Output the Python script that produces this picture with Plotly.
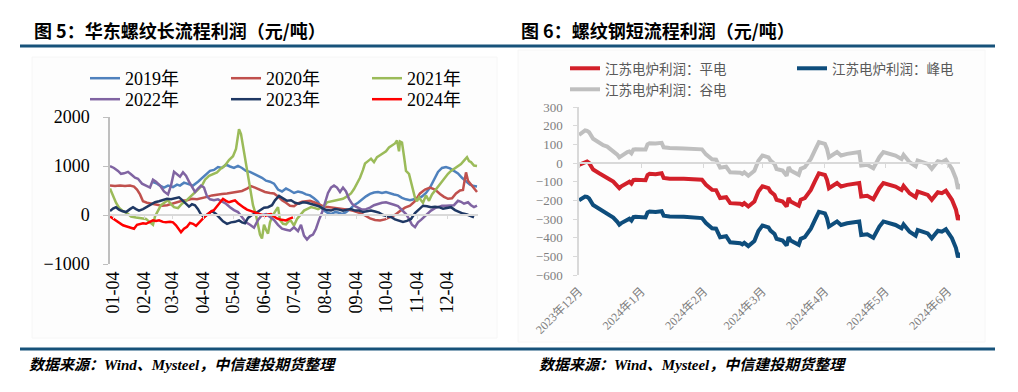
import plotly.graph_objects as go

W, H = 1018, 392
SERIF = "Liberation Serif, Noto Sans CJK SC"
SANS = "Noto Sans CJK SC"


def X(px):
    return px / W


def Y(py):
    return 1 - py / H


# ---------------- Left chart: 华东螺纹长流程利润 ----------------
month_tick_days = [3, 34, 62, 93, 123, 154, 184, 215, 246, 276, 307, 337]
month_tick_labels = ["01-04", "02-04", "03-04", "04-04", "05-04", "06-04",
                     "07-04", "08-04", "09-04", "10-04", "11-04", "12-04"]

day_2019 = [43, 47, 50, 54, 58, 63, 67, 70, 74, 78, 83, 88, 92, 96, 100, 104, 108, 112, 116, 120,
            124, 128, 132, 136, 140, 144, 148, 152, 156, 160, 164, 168, 172, 176, 180, 184, 188,
            192, 196, 200, 204, 208, 211, 214, 218, 221, 225, 228, 232, 236, 240, 244, 248, 252,
            256, 260, 264, 268, 272, 276, 280, 284, 288, 292, 296, 300, 304, 308, 312, 316, 320,
            324, 328, 332, 336, 340, 344, 348, 352, 356, 360, 364, 367]
val_2019 = [670, 640, 600, 560, 600, 570, 620, 600, 660, 640, 600, 680, 760, 820, 900, 920, 980,
            960, 1030, 990, 960, 1000, 960, 900, 880, 840, 800, 760, 700, 680, 640, 520, 480, 540,
            500, 450, 480, 460, 420, 400, 340, 270, 160, 90, 40, 20, 60, 50, 20, 60, 120, 200, 250,
            320, 380, 430, 460, 470, 450, 470, 440, 420, 400, 350, 320, 300, 320, 330, 380, 450,
            560, 720, 880, 960, 980, 950, 900, 850, 760, 680, 620, 590, 580]

day_2020 = [0, 5, 10, 15, 20, 24, 27, 30, 33, 37, 42, 47, 52, 57, 62, 67, 72, 77, 82, 87, 92, 97,
            102, 107, 112, 117, 122, 127, 132, 137, 141, 145, 150, 155, 160, 164, 168, 172, 176,
            180, 184, 188, 192, 196, 200, 204, 208, 212, 216, 220, 226, 232, 238, 244, 250, 255,
            260, 265, 270, 275, 280, 285, 290, 295, 300, 305, 310, 315, 320, 325, 330, 334, 338,
            342, 346, 350, 353, 355, 356, 358, 361, 364, 367]
val_2020 = [600, 590, 600, 590, 600, 580, 520, 420, 280, 250, 230, 210, 190, 200, 230, 260, 290,
            300, 330, 320, 340, 370, 400, 420, 430, 440, 460, 470, 490, 540, 590, 560, 520, 470,
            450, 440, 380, 300, 250, 190, 180, 240, 270, 280, 290, 260, 220, 190, 170, 160, 140,
            130, 110, 80, 40, -10, -70, -100, -110, -90, -50, 0, 80, 150, 190, 280, 440, 520, 560,
            520, 430, 370, 330, 340, 440, 500, 510, 800, 870, 700, 620, 560, 470]

day_2021 = [0, 3, 6, 9, 13, 17, 21, 26, 31, 36, 40, 43, 45, 48, 51, 55, 58, 61, 64, 68, 72, 76,
            80, 84, 88, 92, 95, 99, 103, 107, 111, 115, 119, 123, 126, 128, 129, 131, 133, 135,
            137, 139, 141, 143, 146, 148, 150, 152, 154, 156, 158, 160, 163, 166, 168, 170, 173,
            176, 179, 181, 184, 187, 191, 194, 198, 201, 205, 208, 211, 214, 217, 221, 225, 229,
            233, 237, 241, 244, 247, 250, 253, 255, 258, 261, 264, 267, 270, 273, 276, 279, 282,
            285, 287, 289, 290, 292, 294, 296, 299, 302, 305, 307, 309, 311, 313, 316, 319, 322,
            325, 328, 331, 334, 338, 341, 344, 348, 351, 354, 357, 359, 361, 364, 367]
val_2021 = [540, 380, 250, 150, 80, 40, -30, -50, -70, -80, -150, -200, -30, 80, 200, 260, 300,
            220, 160, 140, 230, 290, 360, 440, 520, 600, 720, 800, 840, 870, 950, 1010, 1120, 1200,
            1350, 1600, 1750, 1650, 1400, 1150, 950, 700, 430, 200, 0, -200, -400, -480, -200,
            -300, -380, -150, 0, 100, 160, -100, -180, -190, -120, -120, -214, -80, 30, 90, 130,
            160, 140, 120, 150, 170, 260, 280, 300, 310, 330, 380, 440, 530, 640, 760, 920, 1050,
            1100, 1150, 1080, 1180, 1220, 1260, 1300, 1380, 1420, 1460, 1520, 1300, 1500, 1480,
            1200, 900, 840, 600, 350, 280, 360, 300, 250, 400, 290, 420, 500, 580, 660, 740, 840,
            900, 940, 990, 1040, 1110, 1180, 1100, 1080, 1010, 1000]

day_2022 = [0, 4, 8, 11, 14, 18, 21, 25, 28, 32, 36, 40, 43, 46, 50, 54, 58, 61, 64, 67, 70, 73,
            76, 79, 82, 85, 88, 91, 94, 97, 100, 104, 108, 112, 116, 120, 124, 128, 132, 136, 140,
            144, 148, 152, 156, 160, 164, 168, 172, 176, 180, 184, 188, 191, 194, 197, 200, 203,
            206, 209, 212, 215, 218, 221, 224, 227, 230, 233, 236, 239, 242, 245, 248, 252, 256,
            260, 264, 268, 272, 276, 280, 284, 288, 292, 296, 299, 302, 305, 308, 311, 314, 318,
            321, 325, 328, 332, 336, 340, 344, 348, 351, 354, 358, 361, 364, 367]
val_2022 = [1000, 960, 900, 840, 850, 880, 830, 760, 740, 640, 600, 560, 720, 680, 600, 480, 420,
            600, 880, 820, 780, 870, 800, 680, 560, 470, 540, 600, 560, 380, 320, 300, 320, 280,
            230, 160, 100, 60, -50, -150, -200, -260, -100, 0, 20, -40, -100, -200, -280, -300,
            -320, -250, -330, -200, -420, -500, -430, -400, -280, -100, 50, 250, 450, 560, 600,
            560, 470, 560, 480, 330, 230, 180, 150, 110, 120, 150, 200, 230, 250, 260, 240, 210,
            180, 100, 20, -80, -200, -250, -150, -100, -40, 30, 90, 140, 160, 190, 190, 190, 200,
            290, 270, 230, 260, 200, 160, 190]

day_2023 = [0, 3, 6, 9, 12, 16, 20, 23, 26, 29, 33, 37, 41, 45, 49, 53, 57, 61, 65, 69, 72, 75,
            79, 82, 85, 88, 91, 94, 98, 102, 106, 109, 113, 117, 121, 125, 129, 132, 135, 138, 142,
            146, 150, 154, 158, 162, 165, 169, 173, 177, 181, 185, 189, 193, 197, 201, 205, 209,
            213, 217, 221, 225, 229, 233, 237, 241, 245, 249, 253, 257, 261, 265, 269, 273, 277,
            281, 285, 289, 293, 297, 301, 305, 309, 313, 317, 321, 325, 329, 333, 337, 341, 345,
            349, 353, 357, 361, 364]
val_2023 = [80, 130, 160, 110, 80, 60, 120, 160, 120, 90, 120, 170, 210, 260, 280, 310, 330, 320,
            340, 360, 310, 250, 170, 220, 200, 120, 10, -40, 20, 80, 20, -50, -130, -180, -150,
            -140, -110, -150, -170, -60, 0, 40, 90, 150, 160, 200, 300, 390, 340, 290, 300, 250,
            230, 260, 250, 230, 210, 180, 130, 100, 90, 120, 110, 90, 110, 120, 90, 90, 60, 70,
            90, 70, 50, 0, -20, -40, -90, -110, -140, -120, -80, 40, 110, 190, 180, 160, 170, 160,
            130, 140, 160, 100, 60, 30, 10, -20, -50]

day_2024 = [0, 3, 6, 9, 13, 16, 19, 22, 24, 27, 30, 33, 36, 40, 43, 46, 49, 53, 56, 60, 63, 66,
            69, 71, 74, 77, 80, 83, 86, 89, 92, 95, 98, 101, 104, 107, 110, 113, 116, 119, 122,
            125, 128, 131, 134, 137, 140, 143, 146, 149, 152, 155, 158, 161, 164, 167, 170, 173,
            176, 179, 181, 183]
val_2024 = [-30, -70, -110, -160, -210, -230, -250, -260, -280, -200, -180, -170, -180, -140,
            -110, -120, -110, -140, -150, -140, -150, -210, -290, -350, -280, -240, -160, -180,
            -220, -150, -100, -30, 20, 70, 100, 170, 250, 330, 290, 260, 280, 300, 240, 190, 150,
            110, 90, 60, 40, 20, 10, -20, 10, 20, -30, -70, -90, -100, -110, -80, -60, -50]

# (name, days, values, colour, legend id, legend x px, legend top px)
left_series = [
    ("2019年", day_2019, val_2019, "#4f81bd", "legend", 85, 60),
    ("2020年", day_2020, val_2020, "#c0504d", "legend2", 226, 60),
    ("2021年", day_2021, val_2021, "#9bbb59", "legend3", 367, 60),
    ("2022年", day_2022, val_2022, "#8064a2", "legend4", 85, 81),
    ("2023年", day_2023, val_2023, "#1f3864", "legend5", 226, 81),
    ("2024年", day_2024, val_2024, "#ff0000", "legend6", 367, 81),
]

# ---------------- Right chart: 螺纹钢短流程利润 ----------------
dates_eaf = ["2023-12-01", "2023-12-04", "2023-12-05", "2023-12-06", "2023-12-08", "2023-12-11",
             "2023-12-13", "2023-12-15", "2023-12-18", "2023-12-20", "2023-12-21", "2023-12-22",
             "2023-12-25", "2023-12-26", "2023-12-27", "2023-12-28", "2023-12-29", "2024-01-02",
             "2024-01-03", "2024-01-04", "2024-01-05", "2024-01-08", "2024-01-10", "2024-01-11",
             "2024-01-12", "2024-01-15", "2024-01-22", "2024-01-29", "2024-01-31", "2024-02-02",
             "2024-02-04", "2024-02-05", "2024-02-07", "2024-02-09", "2024-02-12", "2024-02-14",
             "2024-02-19", "2024-02-20", "2024-02-21", "2024-02-23", "2024-02-26", "2024-02-27",
             "2024-02-28", "2024-03-01", "2024-03-04", "2024-03-05", "2024-03-07", "2024-03-08",
             "2024-03-11", "2024-03-13", "2024-03-14", "2024-03-15", "2024-03-19", "2024-03-20",
             "2024-03-22", "2024-03-25", "2024-03-26", "2024-03-27", "2024-03-29", "2024-04-01",
             "2024-04-02", "2024-04-03", "2024-04-07", "2024-04-08", "2024-04-09", "2024-04-12",
             "2024-04-18", "2024-04-19", "2024-04-22", "2024-04-25", "2024-04-28", "2024-04-30",
             "2024-05-06", "2024-05-09", "2024-05-10", "2024-05-13", "2024-05-16", "2024-05-17",
             "2024-05-22", "2024-05-24", "2024-05-27", "2024-05-29", "2024-05-31", "2024-06-03",
             "2024-06-04", "2024-06-05", "2024-06-06", "2024-06-07"]
flat_profit = [-10, 8, 8, 0, -35, -55, -70, -80, -100, -120, -135, -125, -105, -100, -110, -92,
               -90, -92, -92, -65, -58, -60, -58, -55, -80, -84, -85, -87, -90, -117, -135, -144,
               -145, -188, -183, -215, -218, -224, -215, -233, -206, -171, -153, -125, -135, -153,
               -171, -197, -206, -233, -188, -206, -229, -197, -188, -144, -117, -98, -55, -64,
               -89, -135, -107, -117, -126, -117, -107, -180, -176, -194, -135, -107, -126, -144,
               -123, -162, -183, -153, -171, -197, -157, -162, -149, -197, -224, -250, -304, -277]
peak_profit = [-200, -180, -182, -190, -225, -245, -260, -272, -292, -315, -330, -322, -302,
               -298, -308, -290, -288, -292, -292, -265, -260, -262, -260, -258, -282, -286, -288,
               -291, -295, -322, -340, -350, -352, -398, -392, -425, -430, -436, -428, -445, -418,
               -382, -364, -335, -345, -362, -380, -406, -415, -442, -397, -415, -438, -406, -397,
               -352, -325, -306, -262, -270, -295, -341, -313, -323, -332, -323, -313, -386, -382,
               -400, -341, -313, -332, -350, -329, -368, -389, -359, -377, -403, -363, -368, -355,
               -403, -430, -456, -505, -480]
valley_profit = [150, 175, 172, 165, 130, 110, 95, 88, 65, 45, 30, 38, 58, 62, 52, 72, 74, 72,
                 72, 100, 106, 104, 106, 108, 84, 80, 78, 76, 73, 46, 28, 20, 18, -25, -20, -50,
                 -52, -58, -50, -68, -42, -6, 12, 40, 30, 13, -5, -32, -40, -68, -22, -40, -63,
                 -31, -22, 22, 50, 68, 112, 102, 77, 31, 59, 49, 40, 49, 59, -14, -10, -28, 31,
                 59, 40, 22, 43, 4, -17, 13, -5, -31, 9, 4, 17, -31, -58, -84, -138, -111]

eaf_tick_dates = ["2023-12-01", "2024-01-01", "2024-02-01", "2024-03-01", "2024-04-01",
                  "2024-05-01", "2024-06-01"]
eaf_tick_labels = ["2023年12月", "2024年1月", "2024年2月", "2024年3月", "2024年4月",
                   "2024年5月", "2024年6月"]

# (name, values, colour, legend id, legend x px, legend top px); drawn grey first
right_series = [
    ("江苏电炉利润：谷电", valley_profit, "#bfbfbf", "legend9", 565, 74),
    ("江苏电炉利润：平电", flat_profit, "#d3202a", "legend7", 565, 53),
    ("江苏电炉利润：峰电", peak_profit, "#0e4d7c", "legend8", 792, 53),
]

fig = go.Figure()
legend_layout = {}

for name, xs, ys, color, lg, lx, ly in left_series:
    fig.add_trace(go.Scatter(x=xs, y=ys, name=name, mode="lines", xaxis="x", yaxis="y",
                             line=dict(color=color, width=2.5), legend=lg, hoverinfo="skip"))
    legend_layout[lg] = dict(x=X(lx), y=Y(ly), xanchor="left", yanchor="top",
                             orientation="h", bgcolor="rgba(0,0,0,0)", borderwidth=0,
                             font=dict(family=SERIF, size=18, color="black"))

fig.add_trace(go.Scatter(x=[0], y=[0], xaxis="x3", yaxis="y", mode="markers",
                         marker=dict(opacity=0), showlegend=False, hoverinfo="skip"))

for name, ys, color, lg, lx, ly in right_series:
    fig.add_trace(go.Scatter(x=dates_eaf, y=ys, name=name, mode="lines", xaxis="x2", yaxis="y2",
                             line=dict(color=color, width=4), legend=lg, hoverinfo="skip"))
    legend_layout[lg] = dict(x=X(lx), y=Y(ly), xanchor="left", yanchor="top",
                             orientation="h", bgcolor="rgba(0,0,0,0)", borderwidth=0,
                             font=dict(family=SANS, size=13.5, color="#595959"))

fig.add_trace(go.Scatter(x=[dates_eaf[0]], y=[0], xaxis="x4", yaxis="y2", mode="markers",
                         marker=dict(opacity=0), showlegend=False, hoverinfo="skip"))

left_dom_x = [X(110), X(478)]
left_dom_y = [Y(264), Y(117)]
right_dom_x = [X(579), X(960)]
right_dom_y = [Y(275), Y(107)]
x_range_left = [0, 368]
x_range_right = ["2023-12-01", "2024-06-07"]

fig.update_layout(
    width=W, height=H,
    margin=dict(l=0, r=0, t=0, b=0, pad=0, autoexpand=False),
    paper_bgcolor="white", plot_bgcolor="rgba(0,0,0,0)",
    xaxis=dict(domain=left_dom_x, anchor="y", range=x_range_left, tickmode="array",
               tickvals=month_tick_days, ticktext=month_tick_labels, tickangle=-90,
               showline=False, ticks="", showgrid=False, zeroline=False, automargin=False,
               tickfont=dict(family=SERIF, size=18, color="black"), ticklabelstandoff=3),
    xaxis3=dict(overlaying="x", anchor="free", position=Y(214.5), range=x_range_left,
                tickmode="array", tickvals=month_tick_days, showticklabels=False,
                showline=True, linecolor="#d9d9d9", linewidth=1.5, ticks="outside", ticklen=4,
                tickcolor="#d9d9d9", showgrid=False, zeroline=False, automargin=False),
    yaxis=dict(domain=left_dom_y, anchor="x", range=[-1000, 2000], dtick=1000,
               showline=True, linecolor="#bfbfbf", linewidth=1.5, ticks="outside", ticklen=5,
               tickcolor="#bfbfbf", showgrid=False, zeroline=False, automargin=False,
               tickfont=dict(family=SERIF, size=18, color="black"), ticklabelstandoff=10),
    xaxis2=dict(domain=right_dom_x, anchor="y2", type="date", range=x_range_right,
                tickmode="array", tickvals=eaf_tick_dates, ticktext=eaf_tick_labels,
                tickangle=-45, showline=False, ticks="", showgrid=False, zeroline=False,
                automargin=False,
                tickfont=dict(family=SERIF, size=12, color="#7f7f7f"), ticklabelstandoff=6),
    xaxis4=dict(overlaying="x2", anchor="free", position=Y(163), type="date",
                range=x_range_right, tickmode="array", tickvals=eaf_tick_dates,
                showticklabels=False, showline=True, linecolor="#d9d9d9", linewidth=1.5,
                ticks="outside", ticklen=4, tickcolor="#d9d9d9", showgrid=False, zeroline=False,
                automargin=False),
    yaxis2=dict(domain=right_dom_y, anchor="x2", range=[-600, 300], dtick=100,
                showline=True, linecolor="#d9d9d9", linewidth=1.5, ticks="outside", ticklen=4,
                tickcolor="#d9d9d9", showgrid=False, zeroline=False, automargin=False,
                tickfont=dict(family=SERIF, size=13, color="#7f7f7f"), ticklabelstandoff=8),
    showlegend=True,
    **legend_layout,
)

shapes = [
    dict(type="rect", xref="paper", yref="paper", x0=X(32), x1=X(497), y0=Y(338), y1=Y(57),
         fillcolor="#fdfdfd", line=dict(color="#f6f6f6", width=1), layer="below"),
    dict(type="rect", xref="paper", yref="paper", x0=X(518), x1=X(985), y0=Y(342), y1=Y(50),
         fillcolor="#fdfdfd", line=dict(color="#f6f6f6", width=1), layer="below"),
    dict(type="line", xref="paper", yref="paper", x0=X(20), x1=X(995), y0=Y(46), y1=Y(46),
         line=dict(color="#17527a", width=3)),
    dict(type="line", xref="paper", yref="paper", x0=X(20), x1=X(995), y0=Y(349), y1=Y(349),
         line=dict(color="#17527a", width=3)),
]
fig.update_layout(shapes=shapes)

annotations = [
    dict(text="图 5：华东螺纹长流程利润（元/吨）", x=X(32), y=Y(30), xref="paper", yref="paper",
         xanchor="left", yanchor="middle", showarrow=False,
         font=dict(family=SANS, size=18, color="black", weight="bold")),
    dict(text="图 6：螺纹钢短流程利润（元/吨）", x=X(519), y=Y(30), xref="paper", yref="paper",
         xanchor="left", yanchor="middle", showarrow=False,
         font=dict(family=SANS, size=18, color="black", weight="bold")),
    dict(text="数据来源：Wind、Mysteel，中信建投期货整理", x=X(27), y=Y(365), xref="paper",
         yref="paper", xanchor="left", yanchor="middle", showarrow=False,
         font=dict(family=SERIF, size=15, color="black", weight="bold", style="italic")),
    dict(text="数据来源：Wind、Mysteel，中信建投期货整理", x=X(537), y=Y(365), xref="paper",
         yref="paper", xanchor="left", yanchor="middle", showarrow=False,
         font=dict(family=SERIF, size=15, color="black", weight="bold", style="italic")),
]
fig.update_layout(annotations=annotations)

fig.write_html("out.html", config={"displayModeBar": False},
               post_script="document.body.style.margin='0px';")
